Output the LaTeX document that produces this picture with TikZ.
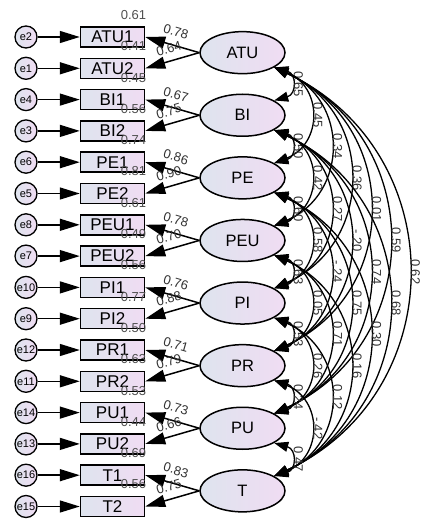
\documentclass[tikz,border=0pt]{standalone}
\usepackage{fontspec}
\setmainfont{Liberation Sans}
\usetikzlibrary{arrows.meta,shapes.geometric}
\definecolor{fillL}{RGB}{222,228,238}
\definecolor{fillR}{RGB}{240,220,243}
\definecolor{numgray}{RGB}{50,50,50}
\definecolor{rgray}{RGB}{80,80,80}
\newcommand\covarc[4]{%
  \pgfmathsetmacro\cx{{22.6,48.6,74.7,100.8,126.8,152.7,178.6}[#3-1]}%
  \pgfmathsetmacro\ey{{6.3,19.2,32.0,44.9,57.5,70.5,83.3}[#3-1]}%
  \draw[cov] (#1.-25) .. controls +(\cx,\ey) and +(\cx,-\ey) .. (#2.25)
    node[pos=.5, num, rotate=-90, anchor=south, inner sep=2pt] {#4};
}
\begin{document}
\begin{tikzpicture}[x=1pt,y=-1pt,
  obs/.style={draw, line width=1.5pt, left color=fillL, right color=fillR,
    minimum width=64pt, minimum height=20pt, inner sep=0pt,
    font=\fontsize{17}{17}\selectfont},
  lat/.style={draw, line width=1.5pt, ellipse, left color=fillL, right color=fillR,
    minimum width=85pt, minimum height=42pt, inner sep=0pt,
    font=\fontsize{16.5}{16.5}\selectfont},
  errc/.style={draw, line width=1.3pt, circle, left color=fillL, right color=fillR,
    minimum size=22pt, inner sep=0pt, font=\fontsize{11}{11}\selectfont},
  arr/.style={line width=1.5pt, -{Triangle[length=20pt,width=12pt]}},
  cov/.style={line width=1.3pt,
    {Triangle[length=14pt,width=10pt]}-{Triangle[length=14pt,width=10pt]}},
  num/.style={font=\fontsize{13}{13}\selectfont, text=numgray, inner sep=1pt},
]
\useasboundingbox (0,0) rectangle (431,521);

% observed variables and error terms
\foreach \n/\e [count=\i from 0] in {ATU1/e2, ATU2/e1, BI1/e4, BI2/e3,
   PE1/e6, PE2/e5, PEU1/e8, PEU2/e7, PI1/e10, PI2/e9,
   PR1/e12, PR2/e11, PU1/e14, PU2/e13, T1/e16, T2/e15} {
  \node[obs] (\n) at (112.5, {37+31.3*\i}) {\n};
  \node[errc] (\e) at (26, {37+31.3*\i}) {\e};
  \draw[arr] (\e) -- (\n);
}
% squared multiple correlations
\foreach \n/\r in {ATU1/0.61, ATU2/0.41, BI1/0.45, BI2/0.56,
   PE1/0.74, PE2/0.81, PEU1/0.61, PEU2/0.49, PI1/0.56, PI2/0.77,
   PR1/0.50, PR2/0.63, PU1/0.53, PU2/0.44, T1/0.69, T2/0.56} {
  \node[num, text=rgray] (r\n) at ([xshift=21pt, yshift=22pt]\n.center) {\r};
}

% latent variables with loadings
\foreach \n/\a/\b/\la/\lb [count=\k from 0] in {ATU/ATU1/ATU2/0.78/0.64, BI/BI1/BI2/0.67/0.75,
   PE/PE1/PE2/0.86/0.90, PEU/PEU1/PEU2/0.78/0.70, PI/PI1/PI2/0.76/0.88,
   PR/PR1/PR2/0.71/0.79, PU/PU1/PU2/0.73/0.66, T/T1/T2/0.83/0.75} {
  \node[lat] (\n) at (242.5, {52.65+62.6*\k}) {\n};
  \draw[arr] (\n.west) -- node[num, sloped, above=7pt] {\la} (\a.east);
  \draw[arr] (\n.west) -- node[num, sloped, above=6pt] {\lb} (\b.east);
}

% covariances
\covarc{ATU}{BI}{1}{0.65}
\covarc{ATU}{PE}{2}{0.45}
\covarc{ATU}{PEU}{3}{0.34}
\covarc{ATU}{PI}{4}{0.36}
\covarc{ATU}{PR}{5}{0.01}
\covarc{ATU}{PU}{6}{0.59}
\covarc{ATU}{T}{7}{0.62}
\covarc{BI}{PE}{1}{0.50}
\covarc{BI}{PEU}{2}{0.42}
\covarc{BI}{PI}{3}{0.27}
\covarc{BI}{PR}{4}{-.20}
\covarc{BI}{PU}{5}{0.74}
\covarc{BI}{T}{6}{0.68}
\covarc{PE}{PEU}{1}{0.60}
\covarc{PE}{PI}{2}{0.58}
\covarc{PE}{PR}{3}{-.24}
\covarc{PE}{PU}{4}{0.75}
\covarc{PE}{T}{5}{0.30}
\covarc{PEU}{PI}{1}{0.63}
\covarc{PEU}{PR}{2}{0.05}
\covarc{PEU}{PU}{3}{0.71}
\covarc{PEU}{T}{4}{0.16}
\covarc{PI}{PR}{1}{0.53}
\covarc{PI}{PU}{2}{0.26}
\covarc{PI}{T}{3}{0.12}
\covarc{PR}{PU}{1}{0.24}
\covarc{PR}{T}{2}{-.42}
\covarc{PU}{T}{1}{0.47}
\end{tikzpicture}
\end{document}
